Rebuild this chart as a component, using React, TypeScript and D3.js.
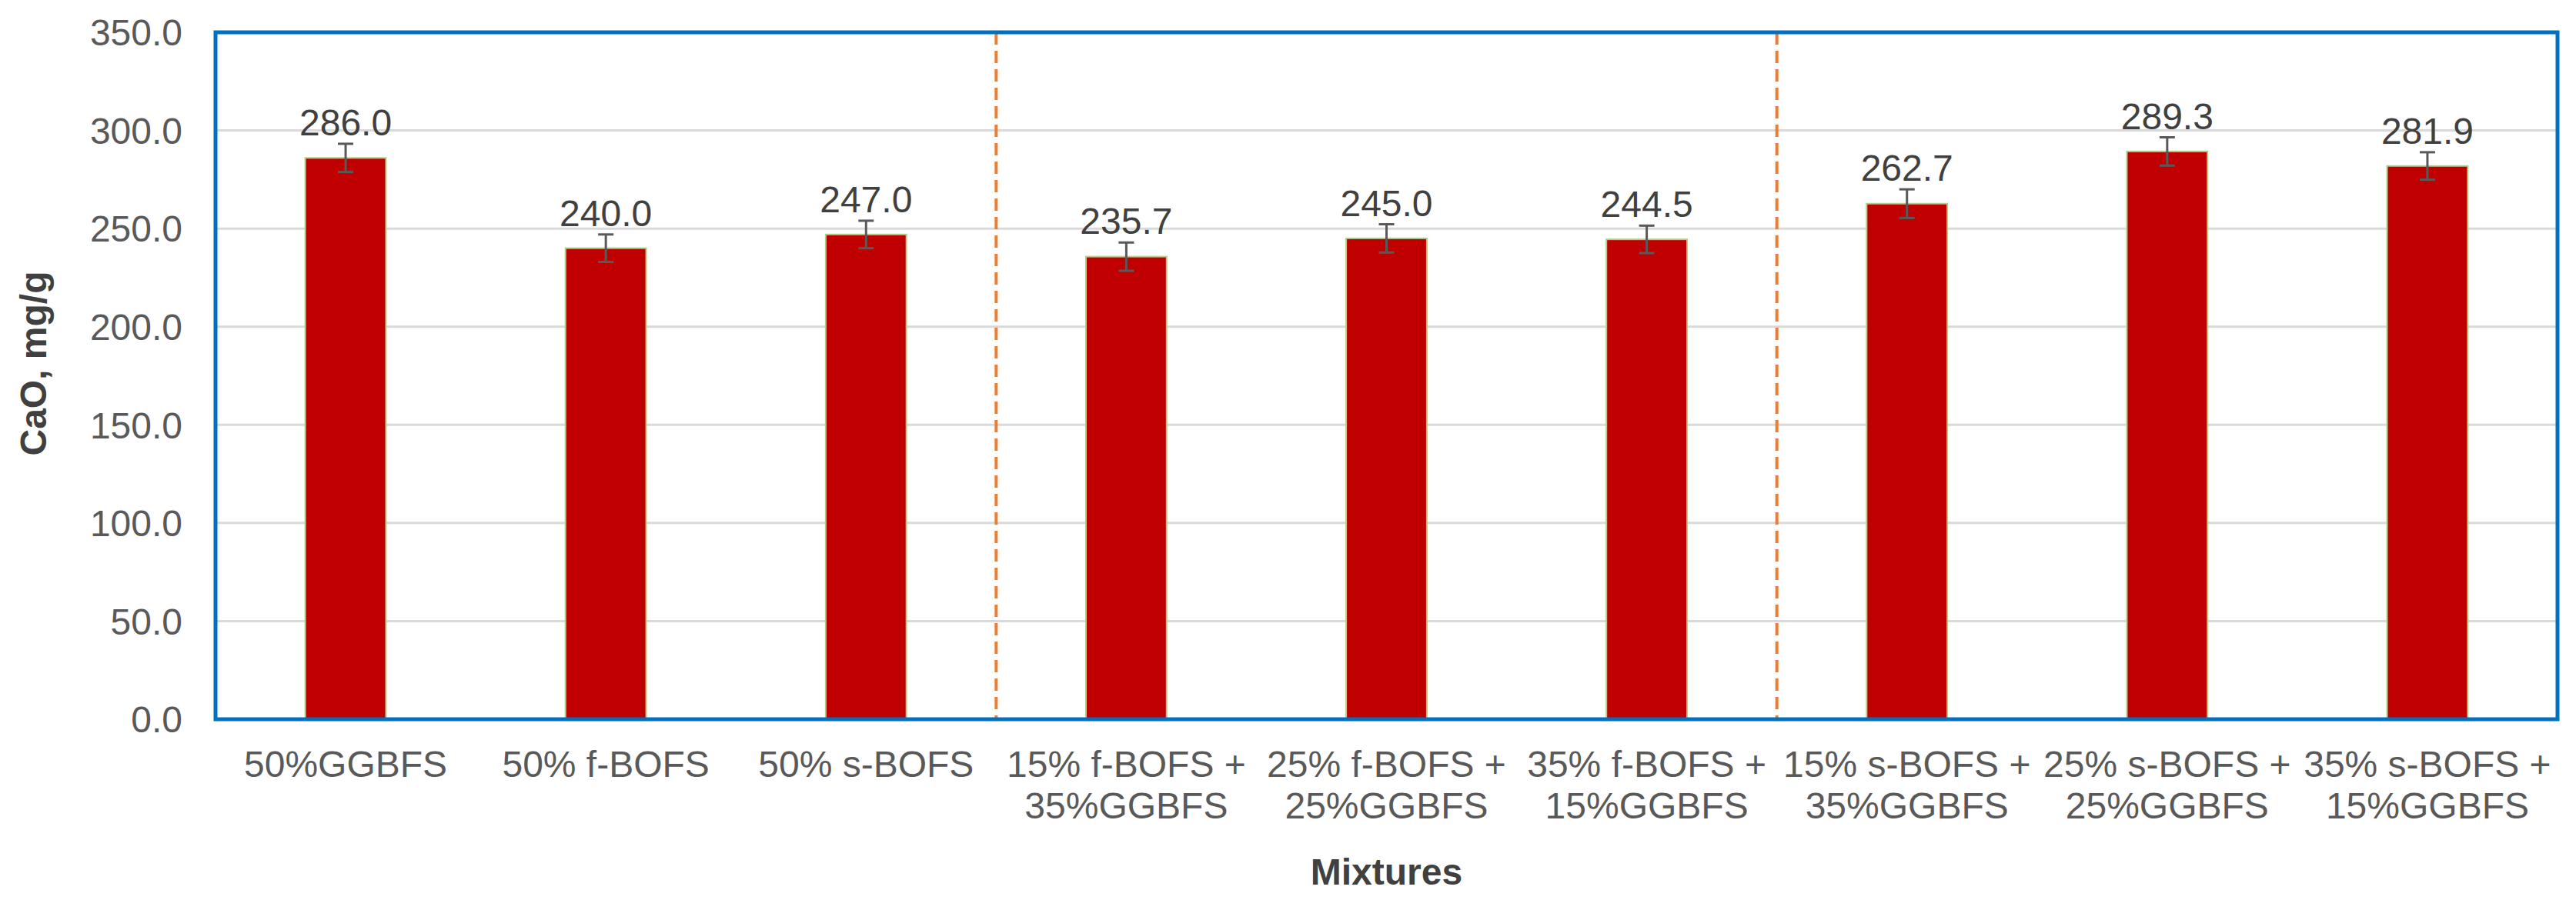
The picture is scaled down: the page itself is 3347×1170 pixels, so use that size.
import { useRef, useEffect } from 'react';
import * as d3 from 'd3';

const mixtures = [
  ['50%GGBFS'],
  ['50% f-BOFS'],
  ['50% s-BOFS'],
  ['15% f-BOFS +', '35%GGBFS'],
  ['25% f-BOFS +', '25%GGBFS'],
  ['35% f-BOFS +', '15%GGBFS'],
  ['15% s-BOFS +', '35%GGBFS'],
  ['25% s-BOFS +', '25%GGBFS'],
  ['35% s-BOFS +', '15%GGBFS'],
];
const caoValues = [286.0, 240.0, 247.0, 235.7, 245.0, 244.5, 262.7, 289.3, 281.9];
const caoErrors = [7.2, 7.0, 7.0, 7.2, 7.2, 7.0, 7.3, 7.2, 7.0];
const yTicks = [0, 50, 100, 150, 200, 250, 300, 350];
const groupBreaks = [3, 6];

const W = 3347;
const H = 1170;
const FONT = '"Liberation Sans", Arial, sans-serif';

export default function App() {
  const svgRef = useRef<SVGSVGElement>(null);

  useEffect(() => {
    document.body.style.margin = '0';
    if (!svgRef.current) return;
    const svg = d3.select(svgRef.current);
    svg.selectAll('*').remove();

    const margin = { top: 42, right: 24, bottom: 235, left: 280 };
    const width = W - margin.left - margin.right;
    const height = H - margin.top - margin.bottom;

    const g = svg.append('g').attr('transform', `translate(${margin.left},${margin.top})`);

    const idx = mixtures.map((_, i) => i);
    const x = d3.scaleBand<number>().domain(idx).range([0, width]).paddingInner(0.69).paddingOuter(0.345);
    const y = d3.scaleLinear().domain([0, 350]).range([height, 0]);

    // gridlines
    g.selectAll('.grid')
      .data(yTicks.filter((t) => t > 0 && t < 350))
      .enter()
      .append('line')
      .attr('x1', 0)
      .attr('x2', width)
      .attr('y1', (d) => y(d))
      .attr('y2', (d) => y(d))
      .attr('stroke', '#d9d9d9')
      .attr('stroke-width', 3);

    // y tick labels
    g.selectAll('.ytick')
      .data(yTicks)
      .enter()
      .append('text')
      .attr('x', -43)
      .attr('y', (d) => y(d))
      .attr('dy', '0.36em')
      .attr('text-anchor', 'end')
      .attr('font-family', FONT)
      .attr('font-size', 48)
      .attr('fill', '#595959')
      .text((d) => d.toFixed(1));

    // group separators
    const step = x.step();
    g.selectAll('.sep')
      .data(groupBreaks)
      .enter()
      .append('line')
      .attr('x1', (d) => x(d)! + x.bandwidth() / 2 - step / 2)
      .attr('x2', (d) => x(d)! + x.bandwidth() / 2 - step / 2)
      .attr('y1', 0)
      .attr('y2', height)
      .attr('stroke', '#ED7D31')
      .attr('stroke-width', 4)
      .attr('stroke-dasharray', '16,8');

    // bars
    g.selectAll('.bar')
      .data(caoValues)
      .enter()
      .append('rect')
      .attr('x', (_, i) => x(i)!)
      .attr('y', (d) => y(d))
      .attr('width', x.bandwidth())
      .attr('height', (d) => height - y(d))
      .attr('fill', '#C00000')
      .attr('stroke', '#a9d18e')
      .attr('stroke-width', 2);

    // error bars
    const eb = g.selectAll('.err').data(caoValues).enter().append('g');
    const cx = (i: number) => x(i)! + x.bandwidth() / 2;
    eb.append('line')
      .attr('x1', (_, i) => cx(i))
      .attr('x2', (_, i) => cx(i))
      .attr('y1', (d, i) => y(d + caoErrors[i]))
      .attr('y2', (d, i) => y(d - caoErrors[i]));
    eb.append('line')
      .attr('x1', (_, i) => cx(i) - 10)
      .attr('x2', (_, i) => cx(i) + 10)
      .attr('y1', (d, i) => y(d + caoErrors[i]))
      .attr('y2', (d, i) => y(d + caoErrors[i]));
    eb.append('line')
      .attr('x1', (_, i) => cx(i) - 10)
      .attr('x2', (_, i) => cx(i) + 10)
      .attr('y1', (d, i) => y(d - caoErrors[i]))
      .attr('y2', (d, i) => y(d - caoErrors[i]));
    eb.selectAll('line').attr('stroke', '#595959').attr('stroke-width', 3);

    // value labels
    g.selectAll('.val')
      .data(caoValues)
      .enter()
      .append('text')
      .attr('x', (_, i) => cx(i))
      .attr('y', (d, i) => y(d + caoErrors[i]) - 11)
      .attr('text-anchor', 'middle')
      .attr('font-family', FONT)
      .attr('font-size', 48)
      .attr('fill', '#404040')
      .text((d) => d.toFixed(1));

    // plot border
    g.append('rect')
      .attr('x', 0)
      .attr('y', 0)
      .attr('width', width)
      .attr('height', height)
      .attr('fill', 'none')
      .attr('stroke', '#0070C0')
      .attr('stroke-width', 5);

    // x labels
    const xl = g.selectAll('.xl')
      .data(mixtures)
      .enter()
      .append('text')
      .attr('text-anchor', 'middle')
      .attr('font-family', FONT)
      .attr('font-size', 48)
      .attr('fill', '#595959');
    xl.each(function (lines, i) {
      const t = d3.select(this);
      lines.forEach((ln, k) => {
        t.append('tspan')
          .attr('x', cx(i))
          .attr('y', height + 75 + k * 54)
          .text(ln);
      });
    });

    // axis titles
    g.append('text')
      .attr('x', width / 2)
      .attr('y', height + 215)
      .attr('text-anchor', 'middle')
      .attr('font-family', FONT)
      .attr('font-size', 48)
      .attr('font-weight', 'bold')
      .attr('fill', '#404040')
      .text('Mixtures');

    g.append('text')
      .attr('transform', `translate(${-280 + 60},${height / 2 - 16}) rotate(-90)`)
      .attr('text-anchor', 'middle')
      .attr('font-family', FONT)
      .attr('font-size', 48)
      .attr('font-weight', 'bold')
      .attr('fill', '#404040')
      .text('CaO, mg/g');
  }, []);

  return <svg ref={svgRef} width={W} height={H} style={{ display: 'block', background: '#fff' }} />;
}
